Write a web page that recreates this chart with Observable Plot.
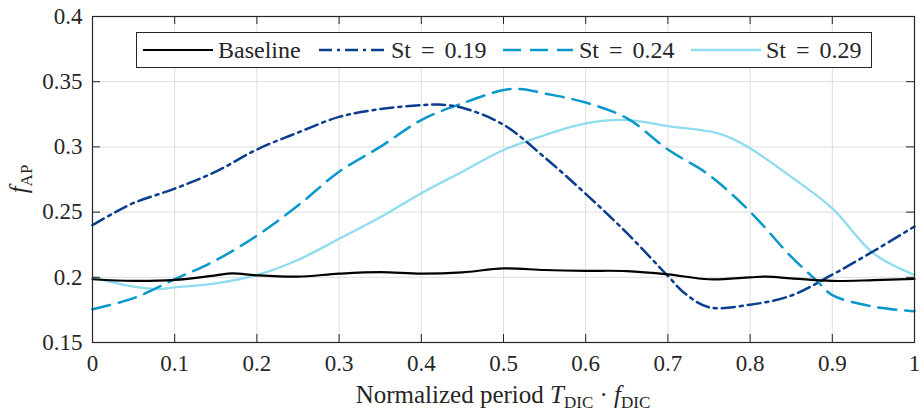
<!DOCTYPE html>
<html>
<head>
<meta charset="utf-8">
<script src="https://cdn.jsdelivr.net/npm/d3@7"></script>
<script src="https://cdn.jsdelivr.net/npm/@observablehq/plot@0.6"></script>
<style>
  body { margin: 0; background: #fff; }
  #wrap { position: relative; width: 921px; height: 411px; font-family: "Liberation Serif", serif; }
  #legend { position: absolute; left: 136px; top: 32px; }
</style>
</head>
<body>
<div id="wrap"></div>
<script>
// ---- data ----
const seriesNames = ["Baseline", "St = 0.19", "St = 0.24", "St = 0.29"];
const seriesColors = ["#000000", "#0b3d8f", "#0a98cc", "#8edcee"];

const xBaseline = [0, 0.05, 0.1, 0.15, 0.17, 0.2, 0.25, 0.3, 0.35, 0.4, 0.45, 0.5, 0.55, 0.6, 0.65, 0.7, 0.75, 0.8, 0.82, 0.85, 0.9, 0.95, 1];
const yBaseline = [0.1985, 0.1972, 0.198, 0.2015, 0.203, 0.2015, 0.2005, 0.2028, 0.204, 0.2028, 0.2038, 0.2068, 0.2056, 0.205, 0.2048, 0.2023, 0.1985, 0.2, 0.2005, 0.1992, 0.1972, 0.1978, 0.1988];

const xSt019 = [0, 0.025, 0.05, 0.1, 0.15, 0.2, 0.25, 0.3, 0.35, 0.4, 0.42, 0.45, 0.5, 0.55, 0.6, 0.65, 0.7, 0.72, 0.75, 0.8, 0.85, 0.9, 0.95, 1];
const ySt019 = [0.240, 0.249, 0.257, 0.268, 0.281, 0.298, 0.311, 0.323, 0.329, 0.332, 0.3325, 0.330, 0.317, 0.292, 0.264, 0.234, 0.201, 0.188, 0.177, 0.179, 0.186, 0.202, 0.220, 0.239];

const xSt024 = [0, 0.05, 0.1, 0.15, 0.2, 0.25, 0.3, 0.35, 0.4, 0.45, 0.5, 0.52, 0.55, 0.6, 0.65, 0.7, 0.75, 0.8, 0.85, 0.88, 0.9, 0.95, 1];
const ySt024 = [0.1755, 0.184, 0.1985, 0.213, 0.232, 0.255, 0.281, 0.300, 0.3206, 0.3334, 0.3436, 0.3444, 0.341, 0.334, 0.322, 0.298, 0.2785, 0.2503, 0.2158, 0.198, 0.1864, 0.1775, 0.174];

const xSt029 = [0, 0.05, 0.08, 0.1, 0.15, 0.2, 0.25, 0.3, 0.35, 0.4, 0.45, 0.5, 0.55, 0.6, 0.65, 0.7, 0.76, 0.78, 0.8, 0.85, 0.9, 0.95, 1];
const ySt029 = [0.200, 0.1928, 0.191, 0.1923, 0.1954, 0.2018, 0.2133, 0.2295, 0.246, 0.2645, 0.281, 0.2976, 0.309, 0.318, 0.3206, 0.316, 0.3106, 0.3058, 0.2989, 0.277, 0.2529, 0.2184, 0.2018];

const xTicks = [0, 0.1, 0.2, 0.3, 0.4, 0.5, 0.6, 0.7, 0.8, 0.9, 1];
const yTicks = [0.15, 0.2, 0.25, 0.3, 0.35, 0.4];
const xTickLabels = ["0", "0.1", "0.2", "0.3", "0.4", "0.5", "0.6", "0.7", "0.8", "0.9", "1"];
const yTickLabels = ["0.15", "0.2", "0.25", "0.3", "0.35", "0.4"];

// ---- build ----
const toRows = (xs, ys) => xs.map((x, i) => ({x, y: ys[i]}));
const rowsBaseline = toRows(xBaseline, yBaseline);
const rows019 = toRows(xSt019, ySt019);
const rows024 = toRows(xSt024, ySt024);
const rows029 = toRows(xSt029, ySt029);

const W = 921, H = 411, mL = 92, mR = 7, mT = 16, mB = 69;
const xDom = [0, 1], yDom = [0.15, 0.4];
const tickPx = 8;
const plotW = W - mL - mR, plotH = H - mT - mB;
const tyLen = (yDom[1] - yDom[0]) * tickPx / plotH;
const txLen = (xDom[1] - xDom[0]) * tickPx / plotW;

const dashes = ["none", "13,5,3,5", "18,9", "none"];
const widths = [2.2, 2.5, 2.5, 2.3];
const curve = "catmull-rom";
const axisColor = "#262626";
const serif = "'Liberation Serif', 'DejaVu Serif', serif";

const chart = Plot.plot({
  width: W, height: H,
  marginLeft: mL, marginRight: mR, marginTop: mT, marginBottom: mB,
  x: {domain: xDom},
  y: {domain: yDom},
  style: {fontFamily: serif, fontSize: "23px", color: axisColor, background: "white"},
  marks: [
    Plot.gridX(xTicks, {stroke: "#dedede", strokeOpacity: 1, strokeWidth: 1}),
    Plot.gridY(yTicks, {stroke: "#dedede", strokeOpacity: 1, strokeWidth: 1}),
    Plot.line(rows029, {x: "x", y: "y", stroke: seriesColors[3], strokeWidth: widths[3], curve}),
    Plot.line(rows024, {x: "x", y: "y", stroke: seriesColors[2], strokeWidth: widths[2], strokeDasharray: dashes[2], curve}),
    Plot.line(rows019, {x: "x", y: "y", stroke: seriesColors[1], strokeWidth: widths[1], strokeDasharray: dashes[1], curve}),
    Plot.line(rowsBaseline, {x: "x", y: "y", stroke: seriesColors[0], strokeWidth: widths[0], curve}),
    // inward ticks on all four sides
    Plot.ruleX(xTicks, {x: d => d, y1: yDom[0], y2: yDom[0] + tyLen, stroke: axisColor}),
    Plot.ruleX(xTicks, {x: d => d, y1: yDom[1], y2: yDom[1] - tyLen, stroke: axisColor}),
    Plot.ruleY(yTicks, {y: d => d, x1: xDom[0], x2: xDom[0] + txLen, stroke: axisColor}),
    Plot.ruleY(yTicks, {y: d => d, x1: xDom[1], x2: xDom[1] - txLen, stroke: axisColor}),
    Plot.frame({stroke: axisColor, strokeWidth: 1.2}),
    Plot.axisX(xTicks, {tickSize: 0, tickPadding: 12, label: null, tickFormat: (d, i) => xTickLabels[i], fill: axisColor, fontFamily: serif, fontSize: 23}),
    Plot.axisY(yTicks, {tickSize: 0, tickPadding: 10, label: null, tickFormat: (d, i) => yTickLabels[i], fill: axisColor, fontFamily: serif, fontSize: 23})
  ]
});

const wrap = document.getElementById("wrap");
wrap.appendChild(chart);

// axis labels with sub/italics
const svg = d3.select(chart);
const xl = svg.append("text")
  .attr("x", mL + plotW / 2).attr("y", 403)
  .attr("text-anchor", "middle")
  .attr("fill", axisColor)
  .style("font-family", serif)
  .style("font-size", "25px");
xl.append("tspan").text("Normalized period ");
xl.append("tspan").attr("font-style", "italic").text("T");
xl.append("tspan").attr("dy", 5).style("font-size", "17px").text("DIC");
xl.append("tspan").attr("dy", -5).text(" \u00B7 ");
xl.append("tspan").attr("font-style", "italic").text("f");
xl.append("tspan").attr("dy", 5).style("font-size", "17px").text("DIC");

const yl = svg.append("text")
  .attr("transform", `translate(27,${mT + plotH / 2}) rotate(-90)`)
  .attr("text-anchor", "middle")
  .attr("fill", axisColor)
  .style("font-family", serif)
  .style("font-size", "25px");
yl.append("tspan").attr("font-style", "italic").text("f");
yl.append("tspan").attr("dy", 5).style("font-size", "17px").text("AP");

// legend
const lg = d3.select(wrap).append("svg").attr("id", "legend")
  .attr("width", 736).attr("height", 36);
lg.append("rect").attr("x", 0.5).attr("y", 0.5).attr("width", 735).attr("height", 35)
  .attr("fill", "white").attr("stroke", axisColor).attr("stroke-width", 1);
const legendX = [7, 183, 367, 555];
const legendTextX = [82, 255, 443, 630];
seriesNames.forEach((name, i) => {
  lg.append("line")
    .attr("x1", legendX[i]).attr("x2", legendX[i] + 70)
    .attr("y1", 18).attr("y2", 18)
    .attr("stroke", seriesColors[i]).attr("stroke-width", widths[i])
    .attr("stroke-dasharray", dashes[i]);
  lg.append("text")
    .attr("x", legendTextX[i]).attr("y", 26)
    .attr("fill", axisColor)
    .style("font-family", serif)
    .style("font-size", "24px")
    .style("word-spacing", "4px")
    .text(name);
});
</script>
</body>
</html>
